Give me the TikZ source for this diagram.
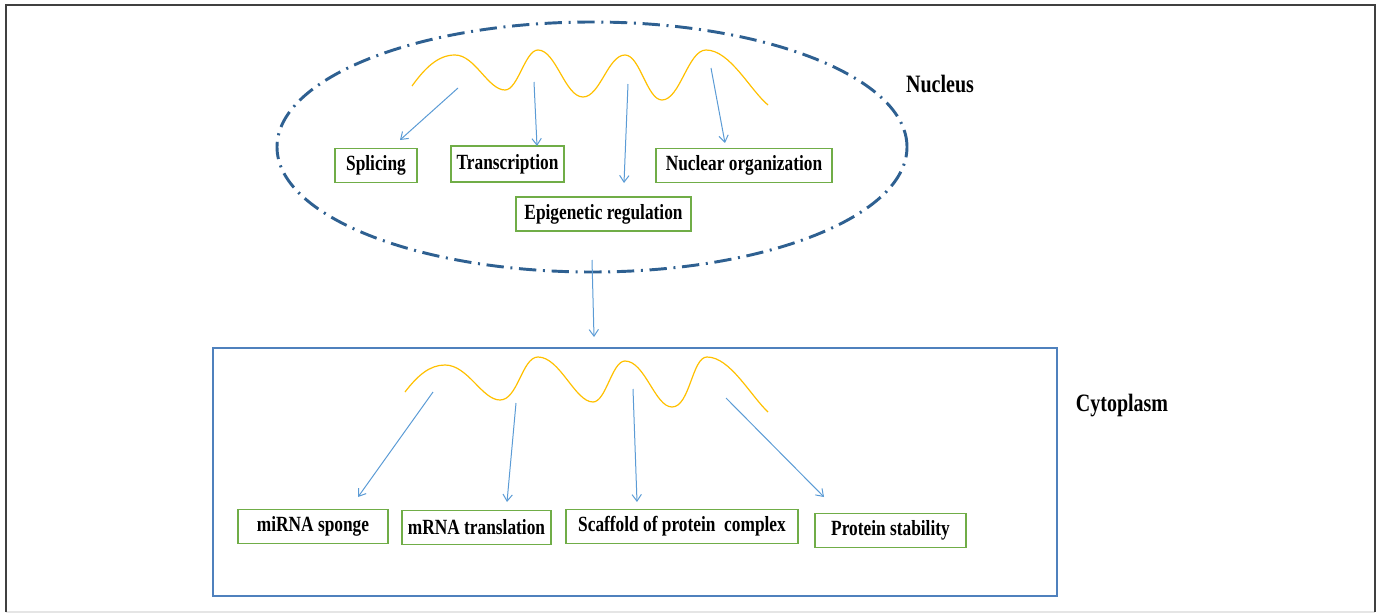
\documentclass[tikz,border=0pt]{standalone}
\usepackage{fontspec}
\setmainfont{Liberation Serif}
\usetikzlibrary{arrows.meta}

\definecolor{nucblue}{RGB}{46,96,145}
\definecolor{cytoblue}{RGB}{79,129,189}
\definecolor{arrowblue}{RGB}{91,155,213}
\definecolor{boxgreen}{RGB}{112,173,71}
\definecolor{rnagold}{RGB}{255,192,0}

% taller text, as in the figure
\newcommand{\tallt}[1]{\scalebox{1}[1.25]{#1}}

\tikzset{
  fn/.style={draw=boxgreen, line width=0.9pt, font=\fontsize{13}{15}\selectfont\bfseries,
    minimum height=25.5pt, inner xsep=4pt},
  link/.style={arrowblue, line width=0.75pt, -{Straight Barb[length=5pt,width=7pt]}},
  rna/.style={rnagold, line width=0.9pt},
  place/.style={font=\fontsize{15}{18}\selectfont\bfseries}
}

\begin{document}
\begin{tikzpicture}[x=0.75pt, y=-0.75pt]
  \useasboundingbox (0,0) rectangle (1381,614);

  % Frame
  \draw[gray!20, line width=1.2pt] (6,612) -- (1375,612);
  \draw[black!75, line width=1.5pt] (6,612) -- (6,5) -- (1375,5) -- (1375,612);

  % Nucleus
  \draw[nucblue, line width=2.2pt, dash pattern=on 13pt off 5pt on 1.5pt off 5pt]
    (592,147) ellipse [x radius=236.25pt, y radius=93.75pt];
  \node[place] (nuc) at (940,84) {\tallt{Nucleus}};

  % RNA in nucleus
  \draw[rna] (412,86) .. controls (425,68) and (438,55) .. (455,55)
    .. controls (475,55) and (488,90) .. (505,90)
    .. controls (518,90) and (525,50) .. (538,50)
    .. controls (556,50) and (565,97) .. (583,97)
    .. controls (600,97) and (608,55) .. (625,55)
    .. controls (640,55) and (647,100) .. (662,100)
    .. controls (680,100) and (688,50) .. (706,50)
    .. controls (730,50) and (750,90) .. (768,105);

  % Nuclear functions
  \node[fn, minimum width=61.5pt] (splice) at (376,165.5) {\tallt{Splicing}};
  \node[fn, minimum width=84.75pt, minimum height=27pt] (transc) at (507.5,164) {\tallt{Transcription}};
  \node[fn, minimum width=132pt] (nucorg) at (744,165.5) {\tallt{Nuclear organization}};
  \node[fn, minimum width=131.25pt] (epigen) at (603.5,214) {\tallt{Epigenetic regulation}};

  \coordinate (t1) at (458,88);  \coordinate (h1) at (400,140);
  \coordinate (t2) at (534,82);  \coordinate (h2) at (537,146);
  \coordinate (t3) at (628,84);  \coordinate (h3) at (624,183);
  \coordinate (t4) at (711,68);  \coordinate (h4) at (725,143);
  \draw[link] (t1) -- (h1);
  \draw[link] (t2) -- (h2);
  \draw[link] (t3) -- (h3);
  \draw[link] (t4) -- (h4);

  % Export
  \coordinate (out) at (592,260);
  \coordinate (in) at (594,337);
  \draw[link] (out) -- (in);

  % Cytoplasm
  \draw[cytoblue, line width=0.9pt] (213,348) rectangle (1057,596);
  \node[place] (cyto) at (1122,406) {\tallt{Cytoplasm}};

  % RNA in cytoplasm
  \draw[rna] (405,392) .. controls (418,375) and (430,365) .. (445,365)
    .. controls (468,365) and (482,400) .. (500,400)
    .. controls (518,400) and (522,357) .. (538,357)
    .. controls (560,357) and (575,402) .. (593,402)
    .. controls (606,402) and (612,361) .. (625,361)
    .. controls (645,361) and (655,407) .. (672,407)
    .. controls (690,407) and (692,357) .. (707,357)
    .. controls (730,357) and (750,395) .. (768,412);

  % Cytoplasmic functions
  \node[fn, minimum width=112.5pt] (sponge) at (313,526.5) {\tallt{miRNA sponge}\hspace{8pt}};
  \node[fn, minimum width=111.75pt] (transl) at (476.5,527.5) {\tallt{mRNA translation}};
  \node[fn, minimum width=174pt] (scaff) at (682,526.5) {\tallt{Scaffold of protein\ \ complex}};
  \node[fn, minimum width=113.25pt] (stabil) at (890.5,530.5) {\tallt{Protein stability}\hspace{6pt}};

  \coordinate (t5) at (433,392); \coordinate (h5) at (358,497);
  \coordinate (t6) at (516,403); \coordinate (h6) at (507,502);
  \coordinate (t7) at (633,389); \coordinate (h7) at (637,502);
  \coordinate (t8) at (726,398); \coordinate (h8) at (824,497);
  \draw[link] (t5) -- (h5);
  \draw[link] (t6) -- (h6);
  \draw[link] (t7) -- (h7);
  \draw[link] (t8) -- (h8);
\end{tikzpicture}
\end{document}
